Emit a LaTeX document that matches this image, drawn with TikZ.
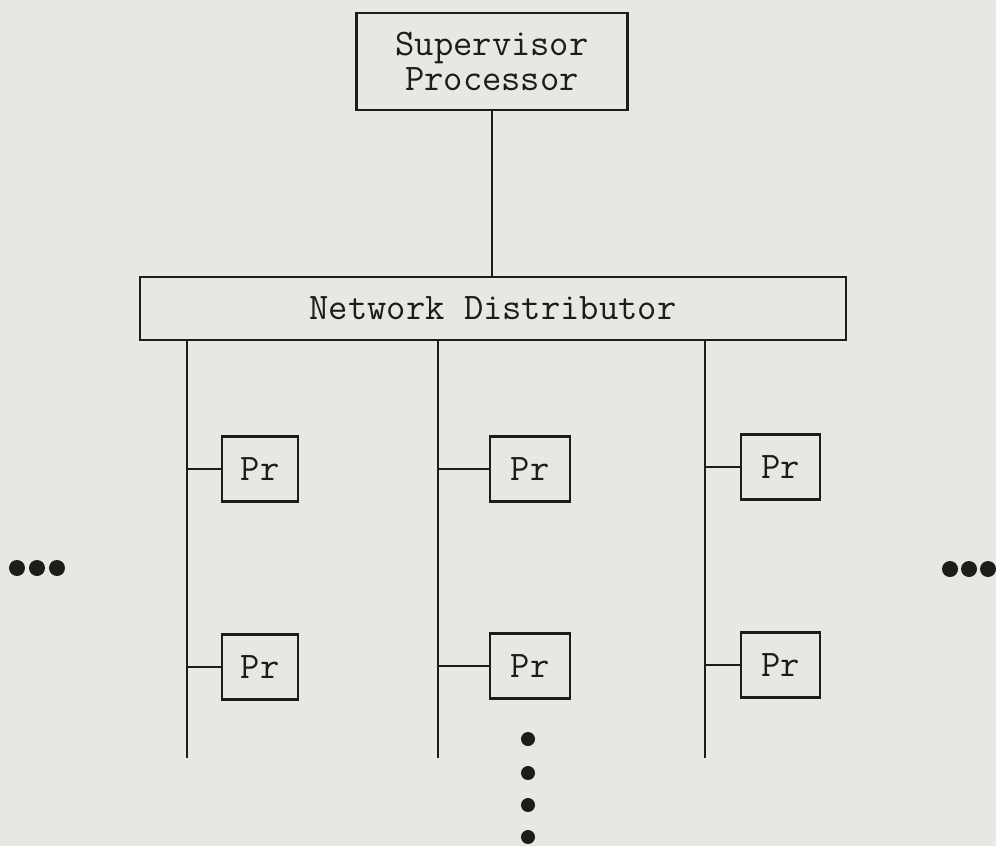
\documentclass[tikz,border=0pt]{standalone}
\usetikzlibrary{calc}
\definecolor{paper}{RGB}{229,233,226}
\definecolor{ink}{RGB}{28,28,26}
\begin{document}
\begin{tikzpicture}[x=1pt,y=-1pt,
  box/.style={draw=ink,line width=2.6pt,inner sep=0pt,font=\ttfamily\fontsize{37.5}{35}\selectfont,text=ink,align=center},
  prbox/.style={box,minimum width=78pt,minimum height=65pt},
  wire/.style={draw=ink,line width=2.6pt},
  blob/.style={fill=ink}]
\fill[paper] (0,0) rectangle (996,846);
\useasboundingbox (0,0) rectangle (996,846);
\node[box,minimum width=271pt,minimum height=97pt] (sup) at (492,61.5) {Supervisor\\Processor};
\node[box,minimum width=706pt,minimum height=63pt] (nd) at (493,308.5) {Network Distributor};
\draw[wire] (sup.south) -- (sup.south |- nd.north);
% buses
\coordinate (b1t) at (187,340); \coordinate (b1b) at (187,758);
\coordinate (b2t) at (438,340); \coordinate (b2b) at (438,758);
\coordinate (b3t) at (705,340); \coordinate (b3b) at (705,758);
\draw[wire] (b1t) -- (b1b);
\draw[wire] (b2t) -- (b2b);
\draw[wire] (b3t) -- (b3b);
% processors
\node[prbox,minimum width=76pt] (p11) at (260,469) {Pr};
\node[prbox,minimum width=80pt] (p21) at (530,469) {Pr};
\node[prbox,minimum width=79pt] (p31) at (780.5,467) {Pr};
\node[prbox,minimum width=76pt] (p12) at (260,667) {Pr};
\node[prbox,minimum width=80pt] (p22) at (530,666) {Pr};
\node[prbox,minimum width=79pt] (p32) at (780.5,665) {Pr};
\foreach \p/\b in {p11/b1t,p12/b1t,p21/b2t,p22/b2t,p31/b3t,p32/b3t}
  \draw[wire] (\p.west) -- (\p.west -| \b);
% ellipsis dots
\foreach \x in {17,37,57} \fill[blob] (\x,568) circle (8);
\foreach \x in {950,969,988} \fill[blob] (\x,569) circle (8);
\foreach \y in {739,773,805,837} \fill[blob] (528,\y) circle (7);
\end{tikzpicture}
\end{document}
